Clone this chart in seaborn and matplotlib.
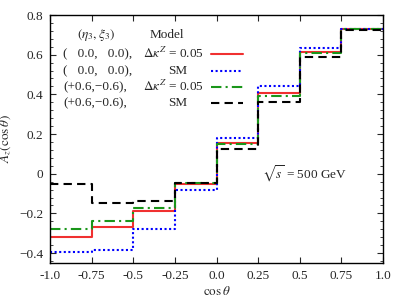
import matplotlib
matplotlib.use("Agg")
import matplotlib.pyplot as plt
import seaborn as sns
import pandas as pd
from matplotlib.lines import Line2D
from matplotlib.ticker import MultipleLocator

# bin edges in cos(theta) and A_z per bin
edges = [-1.0, -0.75, -0.5, -0.25, 0.0, 0.25, 0.5, 0.75, 1.0]
model_00 = [-0.317, -0.268, -0.190, -0.050, 0.157, 0.405, 0.615, 0.727]
sm_00 = [-0.397, -0.385, -0.278, -0.082, 0.179, 0.444, 0.635, 0.727]
model_06 = [-0.280, -0.240, -0.174, -0.045, 0.149, 0.393, 0.611, 0.727]
sm_06 = [-0.052, -0.150, -0.136, -0.047, 0.124, 0.362, 0.586, 0.725]

xtick_labels = ["-1.0", "-0.75", "-0.5", "-0.25", "0.0", "0.25", "0.5", "0.75", "1.0"]

sns.set_style("ticks")
plt.rcParams["font.family"] = ["Liberation Serif", "DejaVu Serif"]
plt.rcParams["mathtext.fontset"] = "stix"
fs = 9.5

fig = plt.figure(figsize=(4.07, 3.05), dpi=100)
ax = fig.add_axes([0.1229, 0.1377, 0.8182, 0.8131])

series = [
    (model_00, "#f03030", "-"),
    (sm_00, "#0000ff", (0, (1, 1.2))),
    (model_06, "#1a961a", (0, (5, 2, 1, 2))),
    (sm_06, "#000000", (0, (4, 2.5))),
]
for vals, col, ls in series:
    df = pd.DataFrame({"x": edges, "y": vals + [vals[-1]]})
    sns.lineplot(data=df, x="x", y="y", ax=ax, color=col, linestyle=ls,
                 linewidth=1.5, drawstyle="steps-post")

ax.set_xlim(-1, 1)
ax.set_ylim(-0.45, 0.8)
ax.set_xticks(edges)
ax.set_xticklabels(xtick_labels)
ax.set_yticks([-0.4, -0.2, 0, 0.2, 0.4, 0.6, 0.8])
ax.set_yticklabels(["\u22120.4", "\u22120.2", "0", "0.2", "0.4", "0.6", "0.8"])
ax.yaxis.set_minor_locator(MultipleLocator(0.04))
ax.tick_params(which="both", direction="in", top=True, right=True, labelsize=fs)
ax.tick_params(which="major", length=4, pad=5)
ax.tick_params(which="minor", length=2)
for s in ax.spines.values():
    s.set_linewidth(1.0)
    s.set_color("black")

ax.set_xlabel(r"$\cos\theta$", fontsize=fs, labelpad=2)
ax.set_ylabel(r"$A_z(\cos\theta)$", fontsize=fs, labelpad=4)

# legend block
tkw = dict(transform=ax.transAxes, fontsize=fs, va="center")
ax.text(0.138, 0.919, r"$(\eta_3,\xi_3)$", ha="center", **tkw)
ax.text(0.350, 0.919, "Model", ha="center", **tkw)
rows = [
    ("(   0.0,   0.0),", r"$\Delta\kappa^Z$ = 0.05"),
    ("(   0.0,   0.0),", "SM"),
    ("(+0.6,\u22120.6),", r"$\Delta\kappa^Z$ = 0.05"),
    ("(+0.6,\u22120.6),", "SM"),
]
row_y = [0.843, 0.774, 0.710, 0.645]
for (c1, c2), yy, (vals, col, ls) in zip(rows, row_y, series):
    ax.text(0.040, yy, c1, ha="left", **tkw)
    if c2 == "SM":
        ax.text(0.383, yy, c2, ha="center", **tkw)
    else:
        ax.text(0.279, yy, c2, ha="left", **tkw)
    ax.add_line(Line2D([0.483, 0.580], [yy, yy], transform=ax.transAxes,
                       color=col, linestyle=ls, linewidth=1.5))

ax.text(0.53, 0.0, r"$\sqrt{s}$ = 500 GeV", ha="center", va="center", fontsize=fs)

fig.savefig("out.png", dpi=100)
